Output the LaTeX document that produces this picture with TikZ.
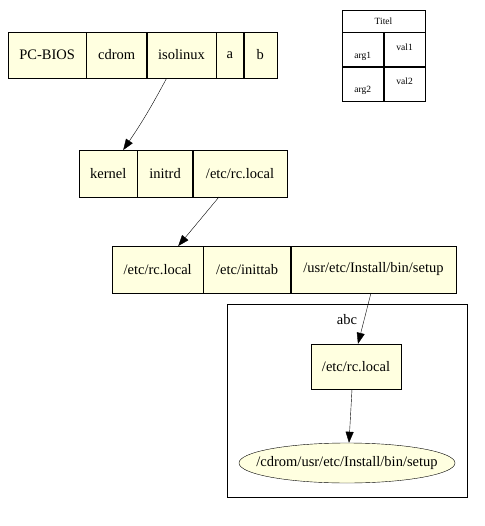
\documentclass[tikz,border=0pt]{standalone}
\usepackage{fontspec}
\setmainfont{Liberation Serif}
\usetikzlibrary{arrows.meta,positioning,shapes.geometric}
\definecolor{gvfill}{HTML}{FFFFE0}

\begin{document}
\begin{tikzpicture}[x=1pt,y=-1pt,font=\fontsize{14.5}{17}\selectfont,node distance=0pt,
  cell/.style={draw,fill=gvfill,minimum height=46.5pt,inner sep=0pt},
  tcell/.style={draw,inner sep=0pt,minimum width=41.5pt,minimum height=34pt},
  small/.style={font=\fontsize{9.5}{11}\selectfont,inner sep=0pt},
  edge/.style={-{Triangle[length=11pt,width=8pt]},thin}]
\useasboundingbox (0,0) rectangle (484,526);
% first record
\node[cell,minimum width=78pt,anchor=west] (bios) at (8,55) {PC-BIOS};
\node[cell,minimum width=60pt,right=of bios] (cdrom) {cdrom};
\node[cell,minimum width=69pt,right=of cdrom] (iso) {isolinux};
\node[cell,minimum width=27pt,right=of iso] (a) {a};
\node[cell,minimum width=33pt,right=of a] (b) {b};
% second record
\node[cell,minimum width=58pt,anchor=west] (kern) at (79,173.5) {kernel};
\node[cell,minimum width=55pt,right=of kern] (initrd) {initrd};
\node[cell,minimum width=94pt,right=of initrd] (rcb) {/etc/rc.local};
% third record
\node[cell,minimum width=91pt,anchor=west] (rcc) at (112,269.5) {/etc/rc.local};
\node[cell,minimum width=87pt,right=of rcc] (inittab) {/etc/inittab};
\node[cell,minimum width=165pt,right=of inittab] (setup) {/usr/etc/Install/bin/setup};
% cluster abc
\node[draw,minimum width=240pt,minimum height=193pt] (abc) at (347,400.5) {};
\node[below=7pt of abc.north] (abclbl) {abc};
\node[cell,minimum width=90pt,minimum height=45pt] (rcd) at (356,366.5) {/etc/rc.local};
\node[draw,fill=gvfill,ellipse,minimum width=216pt,minimum height=40pt,inner ysep=0pt,inner xsep=-20pt]
  (cdsetup) at (347,463) {/cdrom/usr/etc/Install/bin/setup};
% table
\node[draw,inner sep=0pt,minimum width=83pt,minimum height=22pt,small] (titel) at (383.5,21) {Titel};
\node[tcell,below right=0pt and 0pt of titel.south west] (c11) {};
\node[tcell,right=of c11] (c12) {};
\node[tcell,below=of c11] (c21) {};
\node[tcell,right=of c21] (c22) {};
\node[small,above=6pt of c11.south] {arg1};
\node[small,above=16pt of c12.south] {val1};
\node[small,above=6pt of c21.south] {arg2};
\node[small,above=16pt of c22.south] {val2};
% edges
\draw[edge] ([xshift=-15pt]iso.south) to[bend left=3] ([xshift=15pt]kern.north);
\draw[edge] ([xshift=-21pt]rcb.south) -- ([xshift=20.5pt]rcc.north);
\draw[edge] ([xshift=-2.5pt]setup.south) -- ([xshift=2pt]rcd.north);
\draw[edge] ([xshift=-4pt]rcd.south) -- ([xshift=2pt]cdsetup.north);
\end{tikzpicture}
\end{document}
